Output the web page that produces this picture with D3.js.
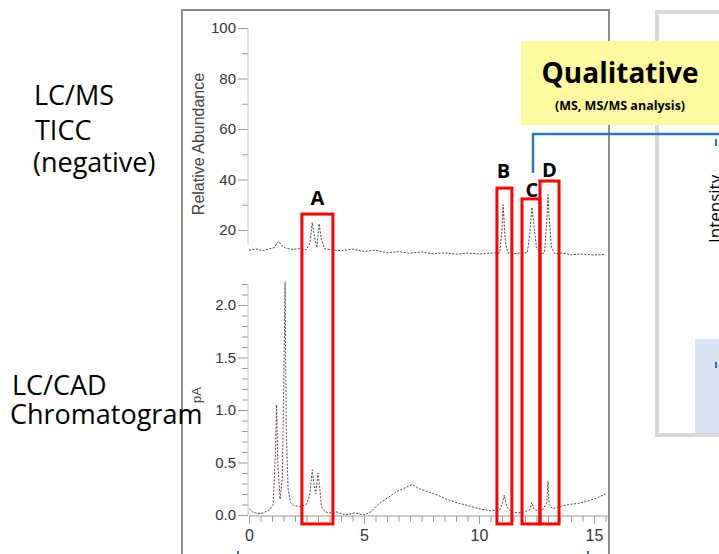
<html>
<head>
<script src="https://d3js.org/d3.v7.min.js"></script>
<style>
body { margin: 0; background: #fff; }
svg { display: block; }
.tick text { font-family: "Liberation Sans", Arial, sans-serif; fill: #333; }
.tick line { stroke: #9a9a9a; }
.slide { font-family: "Open Sans", "Noto Sans", sans-serif; fill: #000; }
</style>
</head>
<body>
<svg id="chart" width="719" height="554"></svg>
<script>
// LC/MS total ion current (negative mode), relative abundance vs. time (min)
var ticTime = [0, 0.3, 0.6, 0.9, 1.1, 1.2, 1.3, 1.4, 1.6, 1.9, 2.2, 2.5, 2.65, 2.75, 2.85, 2.95,
  3.05, 3.15, 3.3, 3.6, 4.0, 4.5, 5.0, 5.5, 6.0, 6.5, 7.0, 7.5, 8.0, 8.5, 9.0, 9.5, 10.0, 10.5,
  10.9, 11.0, 11.05, 11.1, 11.15, 11.25, 11.5, 11.8, 12.1, 12.2, 12.3, 12.4, 12.5, 12.7, 12.85,
  12.95, 13.0, 13.05, 13.15, 13.3, 13.6, 14.0, 14.5, 15.0, 15.5];
var ticAbund = [12, 12.5, 11.8, 12.6, 13, 14.5, 15.5, 14, 12.8, 12.3, 12.6, 12.2, 15, 23, 17, 13,
  22.5, 16, 12.5, 12.2, 11.8, 12.4, 11.5, 12, 11, 11.4, 10.8, 11.3, 10.6, 11, 10.4, 10.9, 10.5, 10.8,
  11, 20, 30, 22, 15, 11, 10.6, 10.9, 11, 18, 29, 21, 13, 10.5, 11,
  24, 34, 25, 13, 10.6, 10.9, 10.2, 10.5, 10.1, 10.3];

// LC/CAD chromatogram, pA vs. time (min)
var cadTime = [0, 0.15, 0.3, 0.5, 0.7, 0.9, 1.05, 1.15, 1.2, 1.25, 1.35, 1.45, 1.52, 1.57, 1.62,
  1.7, 1.8, 1.95, 2.2, 2.5, 2.65, 2.75, 2.82, 2.9, 3.0, 3.08, 3.15, 3.3, 3.5, 3.8, 4.2, 4.6, 5.0,
  5.3, 5.6, 6.0, 6.4, 6.8, 7.1, 7.4, 7.8, 8.2, 8.6, 9.0, 9.5, 10.0, 10.5, 10.9, 11.0, 11.1, 11.2,
  11.4, 11.7, 12.0, 12.2, 12.3, 12.4, 12.6, 12.8, 12.95, 13.0, 13.05, 13.2, 13.5, 13.9, 14.3,
  14.7, 15.1, 15.5];
var cadPA = [0.06, 0.03, 0.02, 0.01, 0.03, 0.05, 0.1, 0.6, 1.05, 0.5, 0.15, 0.35, 1.4, 2.22, 0.8,
  0.25, 0.12, 0.09, 0.08, 0.1, 0.2, 0.43, 0.3, 0.2, 0.4, 0.25, 0.08, 0.03, 0.02, 0.03, 0.0, 0.02, 0.0,
  0.03, 0.1, 0.16, 0.22, 0.26, 0.29, 0.25, 0.22, 0.19, 0.15, 0.12, 0.09, 0.06, 0.04, 0.05, 0.1, 0.19, 0.08,
  0.03, 0.02, 0.03, 0.05, 0.12, 0.05, 0.04, 0.06, 0.12, 0.32, 0.1, 0.06, 0.08, 0.1, 0.11,
  0.13, 0.16, 0.2];

// peaks picked for MS work (time window in min, box top in % abundance)
var peakNames = ["A", "B", "C", "D"];
var peakStart = [2.3, 10.78, 11.87, 12.65];
var peakEnd = [3.65, 11.43, 12.65, 13.48];
var peakTop = [26.3, 36.6, 32.3, 39.4];

var xTicks = [0, 5, 10, 15];
var ticTicks = [20, 40, 60, 80, 100];
var cadTicks = [0, 0.5, 1.0, 1.5, 2.0];

var svg = d3.select("#chart");

// scales
var x = d3.scaleLinear().domain([0, 15]).range([249, 594]);
var yTop = d3.scaleLinear().domain([0, 100]).range([280.5, 28]);
var yBot = d3.scaleLinear().domain([0, 2]).range([515, 305]);

// grey frame round the chromatograms
svg.append("rect")
  .attr("x", 182).attr("y", 10).attr("width", 427).attr("height", 560)
  .attr("fill", "none").attr("stroke", "#8c8c8c").attr("stroke-width", 2);

// right hand panel (mostly cut off)
svg.append("rect")
  .attr("x", 657).attr("y", 12).attr("width", 100).attr("height", 423)
  .attr("fill", "#fff").attr("stroke", "#d9d9d9").attr("stroke-width", 4);
svg.append("rect")
  .attr("x", 695).attr("y", 339).attr("width", 30).attr("height", 94)
  .attr("fill", "#dae3f3");
svg.append("text")
  .attr("class", "slide")
  .attr("transform", "translate(721,243) rotate(-90)")
  .style("font-size", "17px")
  .text("Intensity");

// ---- top: TIC ----
var gTop = svg.append("g");
var ayTop = gTop.append("g")
  .attr("transform", "translate(248,0)")
  .call(d3.axisLeft(yTop).tickValues(ticTicks).tickSize(10).tickPadding(2));
ayTop.select(".domain").remove();
ayTop.selectAll("text").style("font-size", "15px");
gTop.append("g")
  .attr("transform", "translate(248,0)")
  .call(d3.axisLeft(yTop).tickValues([30, 50, 70, 90]).tickSize(6).tickFormat(""))
  .select(".domain").remove();
gTop.append("line")
  .attr("x1", 248).attr("x2", 248)
  .attr("y1", yTop(100)).attr("y2", yTop(14))
  .attr("stroke", "#c8c8c8");

gTop.append("text")
  .attr("transform", "translate(204,144) rotate(-90)")
  .attr("text-anchor", "middle")
  .style("font-family", "Liberation Sans, Arial, sans-serif")
  .style("font-size", "16px").style("fill", "#444")
  .text("Relative Abundance");

var ticLine = d3.line()
  .x(function(d, i) { return x(ticTime[i]); })
  .y(function(d) { return yTop(d); });
gTop.append("path")
  .datum(ticAbund)
  .attr("d", ticLine)
  .attr("fill", "none")
  .attr("stroke", "#444")
  .attr("stroke-width", 1)
  .attr("stroke-dasharray", "2,1.5");

// ---- bottom: CAD ----
var gBot = svg.append("g");
var minorCad = d3.range(0, 23).map(function(i) { return i / 10; })
  .filter(function(v) { return Math.round(v * 10) % 5 !== 0; });
var ayBot = gBot.append("g")
  .attr("transform", "translate(248,0)")
  .call(d3.axisLeft(yBot).tickValues(cadTicks).tickSize(10).tickPadding(2).tickFormat(d3.format(".1f")));
ayBot.select(".domain").remove();
ayBot.selectAll("text").style("font-size", "15px");
gBot.append("g")
  .attr("transform", "translate(248,0)")
  .call(d3.axisLeft(yBot).tickValues(minorCad).tickSize(6).tickFormat(""))
  .select(".domain").remove();
gBot.append("line")
  .attr("x1", 248).attr("x2", 248)
  .attr("y1", yBot(2.2)).attr("y2", yBot(0))
  .attr("stroke", "#c8c8c8");

gBot.append("text")
  .attr("transform", "translate(201,395) rotate(-90)")
  .attr("text-anchor", "middle")
  .style("font-family", "Liberation Sans, Arial, sans-serif")
  .style("font-size", "13px").style("fill", "#444")
  .text("pA");

var cadLine = d3.line()
  .x(function(d, i) { return x(cadTime[i]); })
  .y(function(d) { return yBot(d); });
gBot.append("path")
  .datum(cadPA)
  .attr("d", cadLine)
  .attr("fill", "none")
  .attr("stroke", "#5a4444")
  .attr("stroke-width", 1)
  .attr("stroke-dasharray", "2,1.5");

// time axis
var ax = gBot.append("g")
  .attr("transform", "translate(0,516)")
  .call(d3.axisBottom(x).tickValues(xTicks).tickSize(8).tickPadding(6));
ax.select(".domain").remove();
ax.selectAll("text").style("font-size", "16px");
gBot.append("g")
  .attr("transform", "translate(0,516)")
  .call(d3.axisBottom(x).tickValues(d3.range(1, 32).map(function(i) { return i / 2; })).tickSize(6).tickFormat(""))
  .select(".domain").remove();
gBot.append("line")
  .attr("x1", x(0)).attr("x2", x(15.6))
  .attr("y1", 516).attr("y2", 516)
  .attr("stroke", "#9a9a9a");

// red boxes round the peaks
var boxes = svg.append("g");
peakNames.forEach(function(name, i) {
  boxes.append("rect")
    .attr("x", x(peakStart[i]))
    .attr("y", yTop(peakTop[i]))
    .attr("width", x(peakEnd[i]) - x(peakStart[i]))
    .attr("height", yBot(-0.085) - yTop(peakTop[i]))
    .attr("fill", "none")
    .attr("stroke", "#ff0000")
    .attr("stroke-width", 3);
});
var labelDx = [0, -1, 1, 0];
var labelDy = [-9, -10, -2, -4];
peakNames.forEach(function(name, i) {
  boxes.append("text")
    .attr("class", "slide")
    .attr("x", (x(peakStart[i]) + x(peakEnd[i])) / 2 + labelDx[i])
    .attr("y", yTop(peakTop[i]) + labelDy[i])
    .attr("text-anchor", "middle")
    .style("font-size", "20px").style("font-weight", "bold")
    .text(name);
});

// yellow "Qualitative" call-out with blue connector
svg.append("rect")
  .attr("x", 521).attr("y", 41).attr("width", 210).attr("height", 84)
  .attr("fill", "#fff9a0");
svg.append("text").attr("class", "slide")
  .attr("x", 620).attr("y", 83).attr("text-anchor", "middle")
  .style("font-size", "28px").style("font-weight", "bold")
  .text("Qualitative");
svg.append("text").attr("class", "slide")
  .attr("x", 620).attr("y", 110).attr("text-anchor", "middle")
  .style("font-size", "12.5px").style("font-weight", "bold")
  .text("(MS, MS/MS analysis)");
svg.append("path")
  .attr("d", "M533,173V134H720")
  .attr("fill", "none").attr("stroke", "#2e75b6").attr("stroke-width", 2.5);
svg.append("path")
  .attr("d", "M716,139V146M716,362V368M238,551V554M588,551V554")
  .attr("stroke", "#2e75b6").attr("stroke-width", 2);

// slide labels on the left
var leftLabels = [
  { t: "LC/MS", x: 34, y: 105 },
  { t: "TICC", x: 35, y: 140 },
  { t: "(negative)", x: 33, y: 172 },
  { t: "LC/CAD", x: 12, y: 395 },
  { t: "Chromatogram", x: 10, y: 424 }
];
svg.selectAll(".lbl").data(leftLabels).enter().append("text")
  .attr("class", "slide lbl")
  .attr("x", function(d) { return d.x; })
  .attr("y", function(d) { return d.y; })
  .style("font-size", "27px")
  .text(function(d) { return d.t; });
</script>
</body>
</html>
